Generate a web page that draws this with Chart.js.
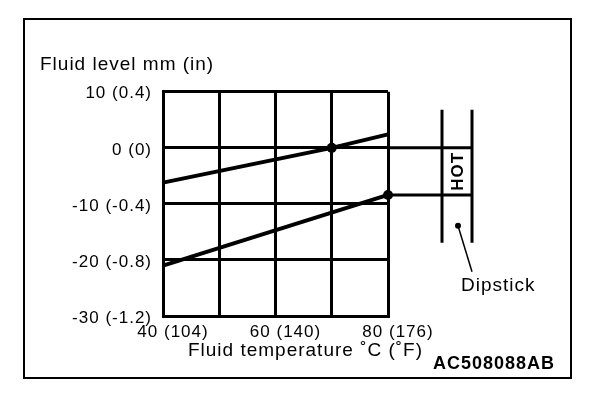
<!DOCTYPE html>
<html>
<head>
<meta charset="utf-8">
<script src="https://cdn.jsdelivr.net/npm/chart.js@4.4.1/dist/chart.umd.min.js"></script>
<style>
  body { margin: 0; background: #fff; }
</style>
</head>
<body>
<canvas id="levelChart" width="608" height="394"></canvas>
<script>
  const upperTemps = [40, 70, 80];
  const upperLevels = [-6.2, 0, 2.4];
  const lowerTemps = [40, 80];
  const lowerLevels = [-21, -8.4];

  const xTicks = [40, 60, 80];
  const xTickLabels = ['40 (104)', '60 (140)', '80 (176)'];
  const yTicks = [10, 0, -10, -20, -30];
  const yTickLabels = ['10 (0.4)', '0 (0)', '-10 (-0.4)', '-20 (-0.8)', '-30 (-1.2)'];

  const FONT = '"Liberation Sans", Arial, Helvetica, sans-serif';
  Chart.defaults.font.family = FONT;
  Chart.defaults.color = '#000';

  // the print font is a bit looser than Arial
  const spacing = {
    id: 'spacing',
    beforeUpdate(chart) { chart.ctx.letterSpacing = '1px'; },
    beforeDraw(chart) { chart.ctx.letterSpacing = '1px'; }
  };

  // frame, dipstick sketch and the loose labels
  const extras = {
    id: 'extras',
    afterDraw(chart) {
      const { ctx, chartArea: a, scales: { y } } = chart;
      const hot = y.getPixelForValue(upperLevels[1]);
      const cold = y.getPixelForValue(lowerLevels[1]);
      const l = a.right + 54, r = a.right + 84;

      ctx.save();
      ctx.letterSpacing = '1px';
      ctx.strokeStyle = '#000';
      ctx.fillStyle = '#000';

      ctx.lineWidth = 2;
      ctx.strokeRect(24, 19, 547, 359);

      ctx.lineWidth = 3;
      ctx.beginPath();
      ctx.moveTo(a.right, hot); ctx.lineTo(r + 1, hot);
      ctx.moveTo(a.right, cold); ctx.lineTo(r + 1, cold);
      ctx.moveTo(l, a.top + 18); ctx.lineTo(l, a.top + 151);
      ctx.moveTo(r, a.top + 18); ctx.lineTo(r, a.top + 151);
      ctx.stroke();

      // HOT mark
      ctx.save();
      ctx.translate((l + r) / 2 + 1, (hot + cold) / 2);
      ctx.rotate(-Math.PI / 2);
      ctx.font = 'bold 17px ' + FONT;
      ctx.textAlign = 'center';
      ctx.textBaseline = 'middle';
      ctx.fillText('HOT', 0, 0);
      ctx.restore();

      // leader to "Dipstick"
      ctx.beginPath();
      ctx.arc(l + 16, a.top + 134, 3, 0, Math.PI * 2);
      ctx.fill();
      ctx.lineWidth = 1.5;
      ctx.beginPath();
      ctx.moveTo(l + 16, a.top + 134);
      ctx.lineTo(r, a.top + 180);
      ctx.stroke();

      ctx.font = '19px ' + FONT;
      ctx.textAlign = 'left';
      ctx.textBaseline = 'alphabetic';
      ctx.fillText('Dipstick', l + 19, a.top + 199);

      ctx.textAlign = 'center';
      ctx.textBaseline = 'middle';
      ctx.fillText('Fluid temperature ˚C (˚F)', (a.left + a.right) / 2 + 30, a.bottom + 35);

      ctx.font = 'bold 18px ' + FONT;
      ctx.textAlign = 'left';
      ctx.textBaseline = 'alphabetic';
      ctx.fillText('AC508088AB', a.right + 45, a.bottom + 53);
      ctx.restore();
    }
  };

  const dotAt = idx => c => c.dataIndex === idx ? 5 : 0;

  new Chart(document.getElementById('levelChart'), {
    type: 'line',
    data: {
      datasets: [{
        data: upperTemps.map((t, i) => ({ x: t, y: upperLevels[i] })),
        borderColor: '#000',
        borderWidth: 4,
        pointRadius: dotAt(1),
        pointBackgroundColor: '#000',
        pointBorderWidth: 0,
        clip: false
      }, {
        data: lowerTemps.map((t, i) => ({ x: t, y: lowerLevels[i] })),
        borderColor: '#000',
        borderWidth: 4,
        pointRadius: dotAt(1),
        pointBackgroundColor: '#000',
        pointBorderWidth: 0,
        clip: false
      }]
    },
    options: {
      responsive: false,
      animation: false,
      layout: { padding: { left: 40, right: 220, top: 0, bottom: 0 } },
      plugins: {
        legend: { display: false },
        tooltip: { enabled: false },
        title: {
          display: true,
          text: 'Fluid level mm (in)',
          align: 'start',
          font: { size: 19, weight: 'normal' },
          padding: { top: 53, bottom: 16 }
        }
      },
      scales: {
        x: {
          type: 'linear',
          min: 40,
          max: 80,
          afterFit(scale) { scale.height = 78; },
          grid: { color: '#000', lineWidth: 3, drawTicks: false },
          border: { color: '#000', width: 3 },
          ticks: {
            stepSize: 10,
            autoSkip: false,
            maxRotation: 0,
            padding: 6,
            labelOffset: 10,
            font: { size: 17 },
            callback: v => {
              const i = xTicks.indexOf(v);
              return i < 0 ? '' : xTickLabels[i];
            }
          }
        },
        y: {
          min: -30,
          max: 10,
          afterFit(scale) { scale.width = 123; },
          grid: { color: '#000', lineWidth: 3, drawTicks: false },
          border: { color: '#000', width: 3 },
          ticks: {
            stepSize: 10,
            padding: 11,
            labelOffset: 2,
            font: { size: 17 },
            callback: v => yTickLabels[yTicks.indexOf(v)]
          }
        }
      }
    },
    plugins: [spacing, extras]
  });
</script>
</body>
</html>
